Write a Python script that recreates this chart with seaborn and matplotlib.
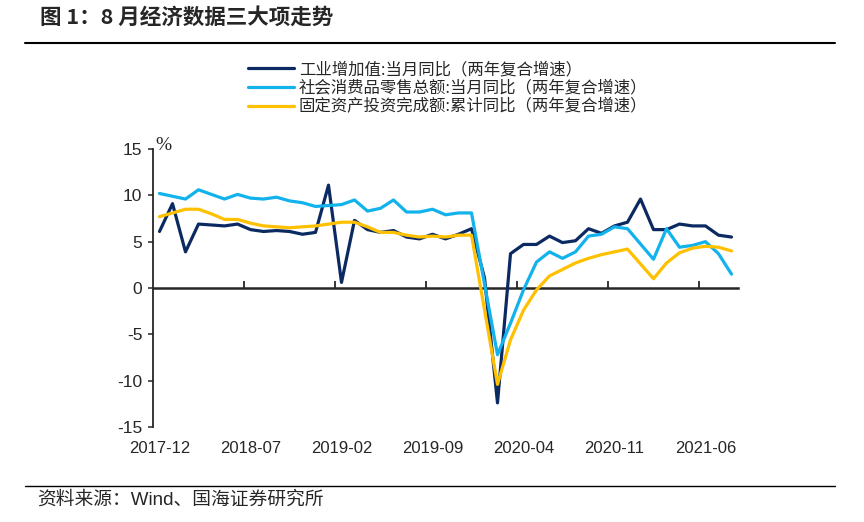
import numpy as np
import pandas as pd
import seaborn as sns
import matplotlib
matplotlib.use('Agg')
import matplotlib.pyplot as plt
from matplotlib.lines import Line2D

# monthly categories 2017-12 .. 2021-08
months = pd.period_range('2017-12', '2021-08', freq='M').strftime('%Y-%m').tolist()
label_months = ['2017-12', '2018-07', '2019-02', '2019-09', '2020-04', '2020-11', '2021-06']

industry = [6.1, 9.1, 3.9, 6.9, 6.8, 6.7, 6.9, 6.3, 6.1, 6.2,
            6.1, 5.8, 6.0, 11.1, 0.6, 7.3, 6.3, 6.0, 6.2, 5.5,
            5.3, 5.8, 5.3, 5.8, 6.4, 1.1, -12.4, 3.7, 4.7, 4.7,
            5.6, 4.9, 5.1, 6.4, 5.9, 6.7, 7.1, 9.6, 6.3, 6.3,
            6.9, 6.7, 6.7, 5.7, 5.5]
retail = [10.2, None, 9.6, 10.6, 10.1, 9.6, 10.1, 9.7, 9.6, 9.8,
          9.4, 9.2, 8.8, None, 9.0, 9.5, 8.3, 8.6, 9.5, 8.2,
          8.2, 8.5, 7.9, 8.1, 8.1, None, -7.2, -3.8, -0.2, 2.8,
          3.9, 3.2, 3.9, 5.6, 5.8, 6.6, 6.4, None, 3.1, 6.4,
          4.4, 4.6, 5.0, 3.7, 1.5]
fai = [7.7, None, 8.5, 8.5, 8.0, 7.4, 7.4, 7.0, 6.7, 6.6,
       6.5, 6.6, 6.7, None, 7.1, 7.1, 6.6, 6.0, 6.0, 5.7,
       5.5, 5.6, 5.5, 5.7, 5.7, None, -10.4, -5.6, -2.4, -0.2,
       1.3, 2.0, 2.7, 3.2, 3.6, 3.9, 4.2, None, 1.0, 2.7,
       3.8, 4.3, 4.5, 4.4, 4.0]

names = ['工业增加值:当月同比（两年复合增速）',
         '社会消费品零售总额:当月同比（两年复合增速）',
         '固定资产投资完成额:累计同比（两年复合增速）']
colors = ['#0c2a62', '#12b2ec', '#ffc000']

sns.set_style('ticks')
plt.rcParams['font.family'] = ['Liberation Sans', 'Noto Sans CJK SC']
plt.rcParams['axes.unicode_minus'] = False
cjk = ['Noto Sans CJK SC', 'DejaVu Sans']

df = pd.DataFrame({'month': months, names[0]: industry, names[1]: retail, names[2]: fai})
df['pos'] = np.arange(len(df))

fig = plt.figure(figsize=(8.64, 5.22), dpi=100)
ax = fig.add_axes([153/864, 1-427/522, 585/864, 278/522])

for name, color in zip(names, colors):
    d = df[['pos', name]].dropna()
    sns.lineplot(x='pos', y=name, data=d, ax=ax, color=color, lw=2.3, label=name)

handles, labels = ax.get_legend_handles_labels()
ax.get_legend().remove()
fig.legend(handles, labels, loc='upper left', bbox_to_anchor=(248/864, 1-61/522),
           frameon=False, prop={'family': cjk, 'size': 11.8}, handlelength=2.8,
           handletextpad=0.3, labelspacing=0.1, borderpad=0, borderaxespad=0)

ax.set_xlim(-0.5, len(months)-0.5)
ax.set_ylim(-15, 15)
ax.set_yticks(range(-15, 16, 5))
ax.set_xticks([months.index(m) for m in label_months], label_months)
ax.set_xlabel('')
ax.set_ylabel('')
ax.tick_params(axis='x', length=0, pad=10, labelsize=12)
ax.tick_params(axis='y', length=3.6, width=1.1, pad=4, labelsize=12.5, direction='out')
for s in ['top', 'right', 'bottom']:
    ax.spines[s].set_visible(False)
ax.spines['left'].set_linewidth(1.3)

# zero line with category boundary ticks
sec = ax.secondary_xaxis(0.5)
sec.set_xticks(np.arange(6.5, len(months)-1, 7))
sec.tick_params(direction='out', length=5, width=1.3, labeltop=False, labelbottom=False)
sec.spines['top'].set_linewidth(1.8)

ax.text(0.018, 1.014, '%', transform=ax.transAxes, fontsize=14,
        family='Liberation Serif', ha='center', va='center')

fig.text(40/864, 1-17/522, '图 1：8 月经济数据三大项走势', fontsize=15.5,
         fontweight='bold', family=cjk, ha='left', va='center')
fig.add_artist(Line2D([25/864, 835/864], [1-43/522]*2, lw=1.5, color='black',
                      transform=fig.transFigure))
fig.add_artist(Line2D([25/864, 835/864], [1-486/522]*2, lw=1.0, color='black',
                      transform=fig.transFigure))
fig.text(37/864, 1-500/522, '资料来源：Wind、国海证券研究所', fontsize=13.5,
         family=['Liberation Sans', 'Noto Sans CJK SC'], ha='left', va='center')

fig.savefig('out.png', dpi=100)
